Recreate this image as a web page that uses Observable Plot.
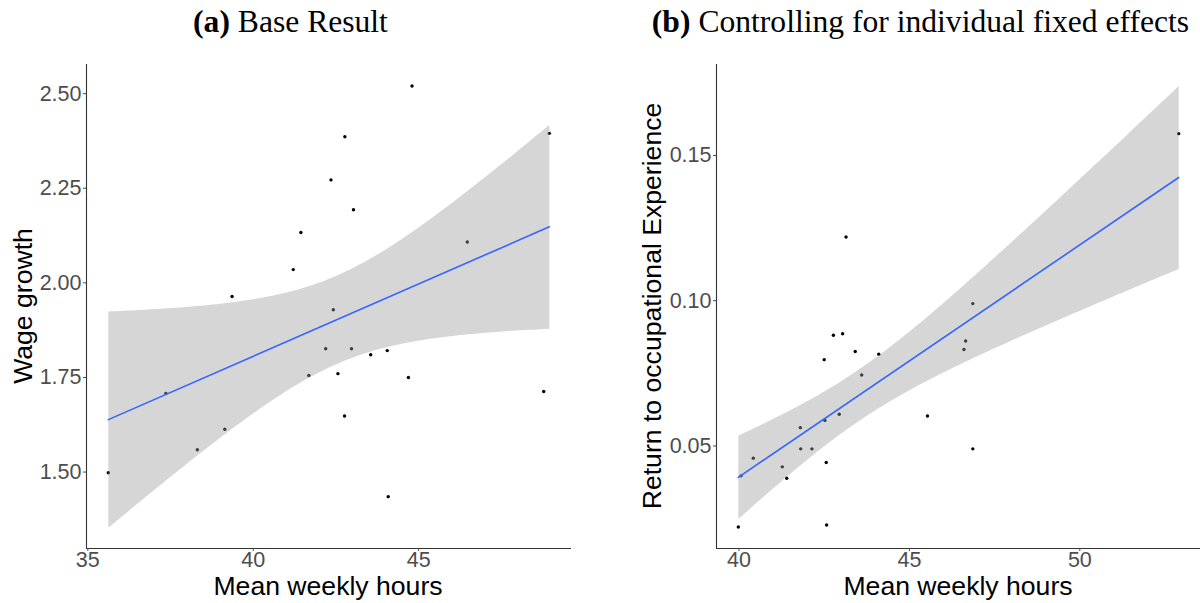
<!DOCTYPE html>
<html><head><meta charset="utf-8">
<script src="https://cdn.jsdelivr.net/npm/d3@7"></script>
<script src="https://cdn.jsdelivr.net/npm/@observablehq/plot@0.6"></script>
<style>
body{margin:0;background:#fff;}
#wrap{position:relative;width:1200px;height:603px;overflow:hidden;background:#fff;}
.title{position:absolute;top:5.5px;font-family:"Liberation Serif","Times New Roman",serif;font-size:31.6px;line-height:1;white-space:nowrap;transform:translateX(-50%);color:#000;}
.xlab{position:absolute;top:575.8px;font-family:"Liberation Sans",Arial,sans-serif;font-size:26.6px;line-height:0.8;white-space:nowrap;transform:translateX(-50%);color:#000;}
.ylab{position:absolute;font-family:"Liberation Sans",Arial,sans-serif;font-size:26.6px;line-height:1;white-space:nowrap;transform:translate(-50%,-50%) rotate(-90deg);color:#000;}
.panel{position:absolute;top:50px;}
</style>
</head><body>
<div id="wrap">
  <div class="title" style="left:290.5px"><b>(a)</b> Base Result</div>
  <div class="title" style="left:920.5px"><b>(b)</b> Controlling for individual fixed effects</div>
  <div class="panel" id="pa" style="left:0px"></div>
  <div class="panel" id="pb" style="left:600px"></div>
  <div class="xlab" style="left:328px">Mean weekly hours</div>
  <div class="xlab" style="left:958px">Mean weekly hours</div>
  <div class="ylab" style="left:23px;top:306px">Wage growth</div>
  <div class="ylab" style="left:651.5px;top:306px">Return to occupational Experience</div>
</div>
<script>
// Panel (a): Base result
const hoursA  = [35.62, 37.36, 38.31, 39.14, 39.36, 41.21, 41.44, 42.35, 42.77, 44.80, 43.03, 48.95, 46.47, 42.42, 42.19, 42.97, 43.55, 44.05, 41.68, 42.56, 44.69, 48.78, 42.76, 44.08];
const growthA = [1.498, 1.708, 1.559, 1.613, 1.964, 2.035, 2.133, 2.272, 2.386, 2.520, 2.193, 2.395, 2.108, 1.929, 1.826, 1.826, 1.810, 1.821, 1.755, 1.760, 1.750, 1.713, 1.648, 1.435];
const xTicksA = [35, 40, 45];
const yTicksA = [1.50, 1.75, 2.00, 2.25, 2.50];
const xDomA = [34.96, 49.62];
const yDomA = [1.298, 2.577];

// Panel (b): individual fixed effects
const hoursB  = [39.98, 40.06, 40.42, 41.27, 41.40, 41.80, 41.81, 42.14, 42.50, 42.52, 42.56, 42.57, 42.77, 43.04, 42.94, 43.41, 43.60, 44.10, 43.14, 46.86, 52.90, 46.65, 46.60, 45.53, 46.86];
const returnB = [0.0221, 0.0397, 0.0458, 0.0428, 0.0389, 0.0563, 0.0490, 0.0490, 0.0797, 0.0588, 0.0443, 0.0228, 0.0881, 0.0886, 0.0609, 0.0825, 0.0744, 0.0816, 0.1219, 0.0990, 0.1575, 0.0861, 0.0832, 0.0603, 0.0490];
const xTicksB = [40, 45, 50];
const yTicksB = [0.05, 0.10, 0.15];
const xDomB = [39.34, 53.54];
const yDomB = [0.0147, 0.1813];

function panel(xs, ys, xDom, yDom, xTicks, yTicks, margins) {
  const data = xs.map((x, i) => ({x, y: ys[i]}));
  return Plot.plot({
    width: 600, height: 553,
    marginTop: 14, marginBottom: 55, marginLeft: margins[0], marginRight: margins[1],
    style: {fontFamily: '"Liberation Sans", Arial, sans-serif', background: "transparent"},
    x: {domain: xDom},
    y: {domain: yDom},
    marks: [
      Plot.dot(data, {x: "x", y: "y", r: 1.7, fill: "#000", stroke: "none"}),
      Plot.linearRegressionY(data, {x: "x", y: "y", stroke: "#3366FF", strokeWidth: 1.6, fill: "#999999", fillOpacity: 0.4, ci: 0.95}),
      Plot.ruleX([xDom[0]], {stroke: "#333", strokeWidth: 1.1}),
      Plot.ruleY([yDom[0]], {stroke: "#333", strokeWidth: 1.1}),
      Plot.axisX(xTicks, {label: null, tickSize: 3, tickPadding: 0, fontSize: 21.5, color: "#4D4D4D"}),
      Plot.axisY(yTicks, {label: null, tickSize: 3, tickPadding: 2, fontSize: 21.5, color: "#4D4D4D", tickFormat: d3.format(".2f")})
    ]
  });
}

document.getElementById("pa").appendChild(panel(hoursA, growthA, xDomA, yDomA, xTicksA, yTicksA, [86, 29]));
document.getElementById("pb").appendChild(panel(hoursB, returnB, xDomB, yDomB, xTicksB, yTicksB, [116, 0]));
</script>
</body></html>
